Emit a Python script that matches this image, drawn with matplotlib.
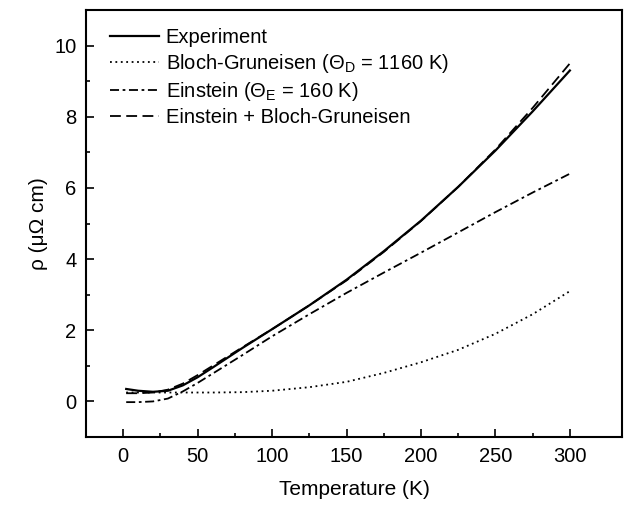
import matplotlib
matplotlib.use("Agg")
import matplotlib.pyplot as plt
import numpy as np

plt.rcParams['font.family'] = ['Liberation Sans', 'DejaVu Sans']
plt.rcParams['mathtext.fontset'] = 'custom'
plt.rcParams['mathtext.rm'] = 'Liberation Sans'
plt.rcParams['mathtext.it'] = 'Liberation Sans'

T = [2, 10, 20, 30, 40, 50, 60, 80, 100, 125, 150, 175, 200, 225, 250, 275, 300]
experiment = [0.35, 0.30, 0.27, 0.30, 0.45, 0.68, 0.95, 1.50, 2.03, 2.70, 3.42, 4.22, 5.08, 6.03, 7.05, 8.15, 9.30]
bloch_gruneisen = [0.25, 0.25, 0.25, 0.25, 0.25, 0.25, 0.25, 0.26, 0.30, 0.40, 0.55, 0.80, 1.10, 1.45, 1.90, 2.45, 3.10]
einstein = [-0.02, -0.02, 0.0, 0.08, 0.28, 0.52, 0.78, 1.30, 1.83, 2.45, 3.05, 3.62, 4.18, 4.75, 5.32, 5.87, 6.40]
einstein_bg = [0.23, 0.23, 0.25, 0.33, 0.50, 0.74, 1.00, 1.52, 2.03, 2.70, 3.40, 4.20, 5.07, 6.03, 7.08, 8.25, 9.50]

labels = ["Experiment",
          "Bloch-Gruneisen (Θ$_{\\mathrm{D}}$ = 1160 K)",
          "Einstein (Θ$_{\\mathrm{E}}$ = 160 K)",
          "Einstein + Bloch-Gruneisen"]

fig = plt.figure(figsize=(6.24, 5.08), dpi=100)
ax = fig.add_axes([86/624, 1-437/508, (622-86)/624, (437-10)/508])

ax.plot(T, experiment, color='black', lw=1.6, label=labels[0])
ax.plot(T, bloch_gruneisen, color='black', lw=1.3, linestyle=(0, (1, 2)), label=labels[1])
ax.plot(T, einstein, color='black', lw=1.3, linestyle=(0, (5, 2, 1.5, 2)), label=labels[2])
ax.plot(T, einstein_bg, color='black', lw=1.3, linestyle=(0, (6, 3)), label=labels[3])

ax.set_xlim(-25, 335)
ax.set_ylim(-1, 11)
ax.set_xticks([0, 50, 100, 150, 200, 250, 300])
ax.set_xticks([25, 75, 125, 175, 225, 275], minor=True)
ax.set_yticks([0, 2, 4, 6, 8, 10])
ax.set_yticks([1, 3, 5, 7, 9], minor=True)
ax.tick_params(which='both', direction='in', top=False, right=False, labelsize=14.5, width=1.2)
ax.tick_params(which='major', length=6, pad=7)
ax.tick_params(which='minor', length=3)
for s in ax.spines.values():
    s.set_linewidth(1.5)

ax.set_xlabel("Temperature (K)", fontsize=15, labelpad=10)
ax.set_ylabel("ρ (μΩ cm)", fontsize=15, labelpad=4)

ax.legend(loc='upper left', bbox_to_anchor=(0.034, 0.972), frameon=False,
          fontsize=14.5, handlelength=2.4, handletextpad=0.35,
          labelspacing=0.25, borderaxespad=0.0, borderpad=0.3)

fig.savefig("out.png", dpi=100)
